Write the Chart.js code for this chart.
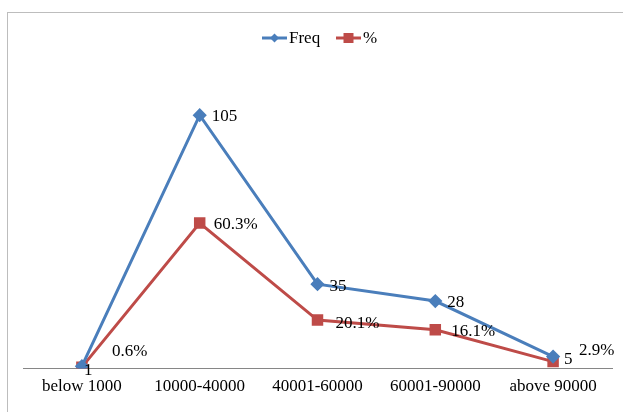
<!DOCTYPE html>
<html>
<head>
<meta charset="utf-8">
<script src="https://cdn.jsdelivr.net/npm/chart.js@4.4.0/dist/chart.umd.min.js"></script>
<style>
  html, body { margin: 0; padding: 0; background: #fff; }
  #wrap { position: relative; width: 623px; height: 412px; }
</style>
</head>
<body>
<div id="wrap"><canvas id="lineChart" width="623" height="412"></canvas></div>
<script>
// Datos del gráfico
const categories = ['below 1000', '10000-40000', '40001-60000', '60001-90000', 'above 90000'];
const freqValues = [1, 105, 35, 28, 5];
const pctValues = [0.6, 60.3, 20.1, 16.1, 2.9];
const pctLabels = ['0.6%', '60.3%', '20.1%', '16.1%', '2.9%'];

const blue = '#4A7EBB';
const red = '#BE4B48';
const serif = '"Liberation Serif", "Times New Roman", serif';

// Desplazamiento de etiquetas (como en Excel, algunas movidas a mano)
const labelShift = {
    0: [[2, 4], [12, 1], [12, 2], [12, 2], [11, 3]],
    1: [[30, -16], [14, 1], [18, 3], [16, 2], [26, -11]]
};

// Plugin: marco, leyenda y etiquetas de datos
const extras = {
    id: 'extras',
    beforeDraw(chart) {
        const c = chart.ctx;
        c.save();
        c.strokeStyle = '#bdbdbd';
        c.lineWidth = 1;
        c.strokeRect(7.5, 12.5, 640, 420);
        c.restore();
    },
    afterDatasetsDraw(chart) {
        const c = chart.ctx;
        c.save();
        c.font = '17px ' + serif;
        c.fillStyle = '#000';
        c.textBaseline = 'middle';
        c.textAlign = 'left';
        chart.data.datasets.forEach((ds, di) => {
            const meta = chart.getDatasetMeta(di);
            meta.data.forEach((pt, i) => {
                const txt = di === 0 ? String(freqValues[i]) : pctLabels[i];
                const s = labelShift[di][i];
                c.fillText(txt, pt.x + s[0], pt.y + s[1]);
            });
        });

        // Leyenda
        const y = 38;
        const items = [
            { x: 262, color: blue, text: 'Freq', shape: 'diamond' },
            { x: 336, color: red, text: '%', shape: 'square' }
        ];
        items.forEach(it => {
            c.strokeStyle = it.color;
            c.fillStyle = it.color;
            c.lineWidth = 3;
            c.beginPath();
            c.moveTo(it.x, y);
            c.lineTo(it.x + 25, y);
            c.stroke();
            const mx = it.x + 12.5;
            c.beginPath();
            if (it.shape === 'diamond') {
                c.moveTo(mx, y - 4.5);
                c.lineTo(mx + 4.5, y);
                c.lineTo(mx, y + 4.5);
                c.lineTo(mx - 4.5, y);
                c.closePath();
            } else {
                c.rect(mx - 5, y - 5, 10, 10);
            }
            c.fill();
            c.fillStyle = '#000';
            c.fillText(it.text, it.x + 27, y + 1);
        });
        c.restore();
    }
};

const ctx = document.getElementById('lineChart').getContext('2d');
const lineChart = new Chart(ctx, {
    type: 'line',
    data: {
        labels: categories,
        datasets: [{
            label: 'Freq',
            data: freqValues,
            borderColor: blue,
            backgroundColor: blue,
            borderWidth: 3,
            pointStyle: 'rectRot',
            pointRadius: 5,
            pointHoverRadius: 5,
            tension: 0
        }, {
            label: '%',
            data: pctValues,
            borderColor: red,
            backgroundColor: red,
            borderWidth: 3,
            pointStyle: 'rect',
            pointRadius: 6,
            pointHoverRadius: 6,
            tension: 0
        }]
    },
    options: {
        responsive: false,
        animation: false,
        layout: {
            padding: { left: 23, right: 11, top: 79, bottom: 15 }
        },
        scales: {
            x: {
                offset: true,
                grid: { display: false },
                border: { display: true, color: '#868686', width: 1 },
                ticks: {
                    color: '#000',
                    font: { family: serif, size: 17 },
                    padding: 0,
                    autoSkip: false,
                    maxRotation: 0
                }
            },
            y: {
                display: false,
                min: 0,
                max: 120
            }
        },
        plugins: {
            legend: { display: false },
            tooltip: { enabled: false }
        }
    },
    plugins: [extras]
});
</script>
</body>
</html>
